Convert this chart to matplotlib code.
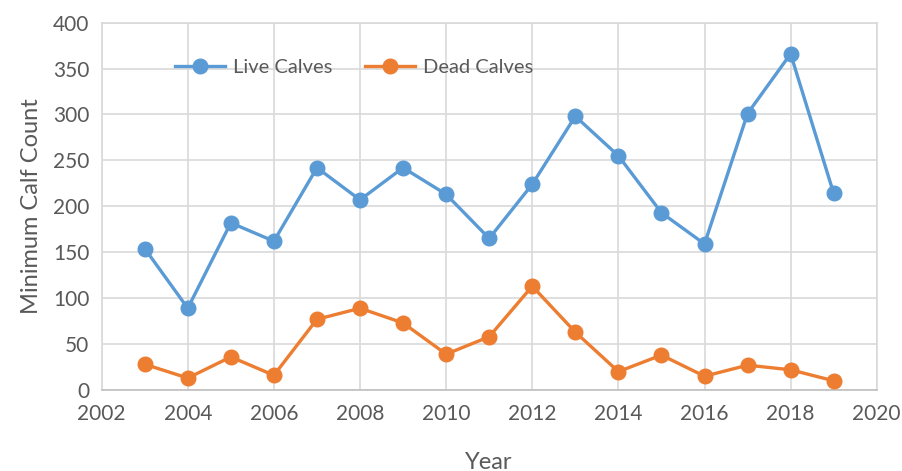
import matplotlib
matplotlib.use("Agg")
import matplotlib.pyplot as plt

# Dados
years = [2003, 2004, 2005, 2006, 2007, 2008, 2009, 2010, 2011,
         2012, 2013, 2014, 2015, 2016, 2017, 2018, 2019]
live_calves = [154, 89, 182, 162, 242, 207, 242, 213, 165,
               224, 298, 255, 193, 159, 301, 366, 214]
dead_calves = [28, 13, 36, 16, 77, 89, 73, 39, 58,
               113, 63, 20, 38, 15, 27, 22, 10]

plt.rcParams['font.family'] = ['Lato', 'DejaVu Sans']
text_color = "#595959"
grid_color = "#D9D9D9"

fig = plt.figure(figsize=(9.02, 4.71), dpi=100)
ax = fig.add_axes([0.1127, 0.172, 0.8593, 0.780])

ax.plot(years, live_calves, color="#5B9BD5", linewidth=2.4, marker="o",
        markersize=10.5, label="Live Calves", zorder=3)
ax.plot(years, dead_calves, color="#ED7D31", linewidth=2.4, marker="o",
        markersize=10.5, label="Dead Calves", zorder=3)

ax.set_xlim(2002, 2020)
ax.set_ylim(0, 400)
ax.set_xticks(range(2002, 2021, 2))
ax.set_yticks(range(0, 401, 50))

ax.grid(True, color=grid_color, linewidth=1.2)
ax.set_axisbelow(True)
for side in ["top", "right", "left"]:
    ax.spines[side].set_color(grid_color)
    ax.spines[side].set_linewidth(1.2)
ax.spines["bottom"].set_color("#BFBFBF")
ax.spines["bottom"].set_linewidth(1.2)

ax.tick_params(length=0, labelsize=15, colors=text_color)
ax.tick_params(axis="x", pad=10)
ax.tick_params(axis="y", pad=9)
ax.set_xlabel("Year", fontsize=17, color=text_color, labelpad=20)
ax.set_ylabel("Minimum Calf Count", fontsize=17, color=text_color, labelpad=8)

ax.legend(loc="center", bbox_to_anchor=(0.3255, 0.877), ncol=2, frameon=False,
          fontsize=14.5, labelcolor=text_color, handlelength=2.5,
          columnspacing=1.65, handletextpad=0.35)

fig.savefig("out.png", dpi=100)
